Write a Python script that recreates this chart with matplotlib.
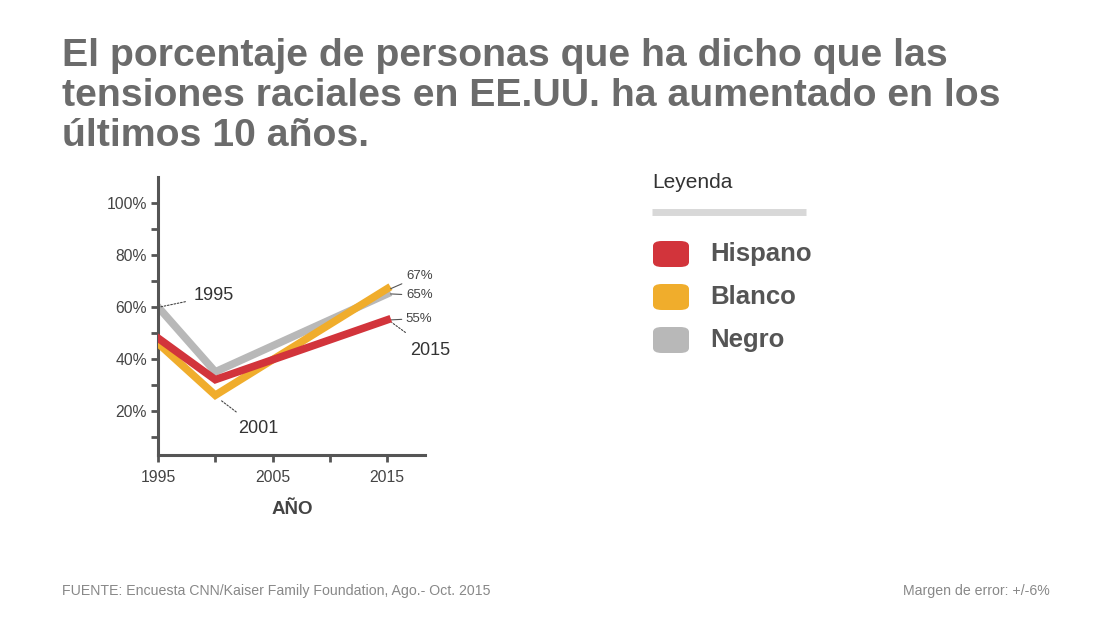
import matplotlib.pyplot as plt
from matplotlib.patches import FancyBboxPatch

# ---- data ----
years = [1995, 2000, 2015]
hispano = [48, 32, 55]
blanco = [46, 26, 67]
negro = [60, 35, 65]

series_names = ["Hispano", "Blanco", "Negro"]
colors = ["#d2343b", "#f0ad2c", "#b8b8b8"]

y_ticks = [20, 40, 60, 80, 100]
y_minor = [10, 30, 50, 70, 90]
x_ticks = [1995, 2005, 2015]
x_minor = [2000, 2010]

title = ("El porcentaje de personas que ha dicho que las\n"
         "tensiones raciales en EE.UU. ha aumentado en los\n"
         "últimos 10 años.")
source = "FUENTE: Encuesta CNN/Kaiser Family Foundation, Ago.- Oct. 2015"
margin_note = "Margen de error: +/-6%"

plt.rcParams["font.family"] = ["Liberation Sans", "DejaVu Sans"]

fig = plt.figure(figsize=(11.1, 6.25), dpi=100)
fig.patch.set_facecolor("white")

ax = fig.add_axes([158 / 1110, 170 / 625, 267 / 1110, 278 / 625])

# gray first so it sits under the others, as in the original
ax.plot(years, negro, color=colors[2], lw=5.5, solid_joinstyle="miter", zorder=2)
ax.plot(years, blanco, color=colors[1], lw=5.5, solid_joinstyle="miter", zorder=3)
ax.plot(years, hispano, color=colors[0], lw=5.5, solid_joinstyle="miter", zorder=4)

ax.set_xlim(1995, 2018.3)
ax.set_ylim(3, 110)

for side in ["top", "right"]:
    ax.spines[side].set_visible(False)
for side in ["left", "bottom"]:
    ax.spines[side].set_color("#555555")
    ax.spines[side].set_linewidth(2.2)

ax.set_yticks(y_ticks)
ax.set_yticklabels([f"{v}%" for v in y_ticks])
ax.set_yticks(y_minor, minor=True)
ax.set_xticks(x_ticks)
ax.set_xticklabels([str(v) for v in x_ticks])
ax.set_xticks(x_minor, minor=True)
ax.tick_params(axis="both", which="both", direction="out", length=5, width=2,
               color="#555555", labelcolor="#444444", labelsize=11.3, pad=3)
ax.tick_params(axis="x", pad=6)

# ---- annotations ----
dot = dict(arrowstyle="-", color="#444444", lw=0.8, linestyle=(0, (1.5, 1.5)))
ax.annotate("1995", xy=(1995.2, negro[0]), xytext=(24, 8), textcoords="offset points",
            fontsize=13, color="#333333", va="center", ha="left",
            arrowprops=dict(dot, shrinkA=4, shrinkB=0), annotation_clip=False)
ax.annotate("2001", xy=(years[1] + 0.5, blanco[1] - 2), xytext=(12, -20),
            textcoords="offset points", fontsize=13, color="#333333",
            va="center", ha="left",
            arrowprops=dict(dot, shrinkA=6, shrinkB=0), annotation_clip=False)
ax.annotate("2015", xy=(2015.4, hispano[2] - 1), xytext=(13, -20),
            textcoords="offset points", fontsize=13, color="#333333",
            va="center", ha="left",
            arrowprops=dict(dot, shrinkA=8, shrinkB=0), annotation_clip=False)

pct_offsets = {"Hispano": (11, 1), "Blanco": (11, 9), "Negro": (11, -1)}
for name, vals in zip(series_names, [hispano, blanco, negro]):
    ax.annotate(f"{vals[2]}%", xy=(2015.3, vals[2]), xytext=pct_offsets[name],
                textcoords="offset points", fontsize=9.5, color="#444444",
                va="center", ha="left",
                arrowprops=dict(arrowstyle="-", color="#555555", lw=0.8,
                                shrinkA=1, shrinkB=0),
                annotation_clip=False)

fig.text(292 / 1110, 1 - 510 / 625, "AÑO", fontsize=13.5, fontweight="bold",
         color="#444444", ha="center", va="center")

# ---- title ----
fig.text(62 / 1110, 1 - 38 / 625, title, fontsize=28.3, fontweight="bold",
         color="#6b6b6b", ha="left", va="top", linespacing=1.15)

# ---- legend ----
fig.text(652 / 1110, 1 - 182 / 625, "Leyenda", fontsize=15, color="#333333",
         ha="left", va="center")
fig.add_artist(plt.Line2D([652 / 1110, 806 / 1110], [1 - 212 / 625, 1 - 212 / 625],
                          color="#d8d8d8", lw=5, solid_capstyle="butt",
                          transform=fig.transFigure))
for i, (name, c) in enumerate(zip(series_names, colors)):
    yc = 254 + i * 43
    box = FancyBboxPatch((653 / 1110, 1 - (yc + 13) / 625), 36 / 1110, 26 / 625,
                         boxstyle="round,pad=0,rounding_size=0.008",
                         transform=fig.transFigure, facecolor=c, edgecolor="none")
    fig.add_artist(box)
    fig.text(710 / 1110, 1 - yc / 625, name, fontsize=18.5, fontweight="bold",
             color="#555555", ha="left", va="center")

# ---- footer ----
fig.text(62 / 1110, 1 - 591 / 625, source, fontsize=10.2, color="#888888",
         ha="left", va="center")
fig.text(1050 / 1110, 1 - 591 / 625, margin_note, fontsize=10.2, color="#888888",
         ha="right", va="center")

fig.savefig("out.png", dpi=100, facecolor="white")
